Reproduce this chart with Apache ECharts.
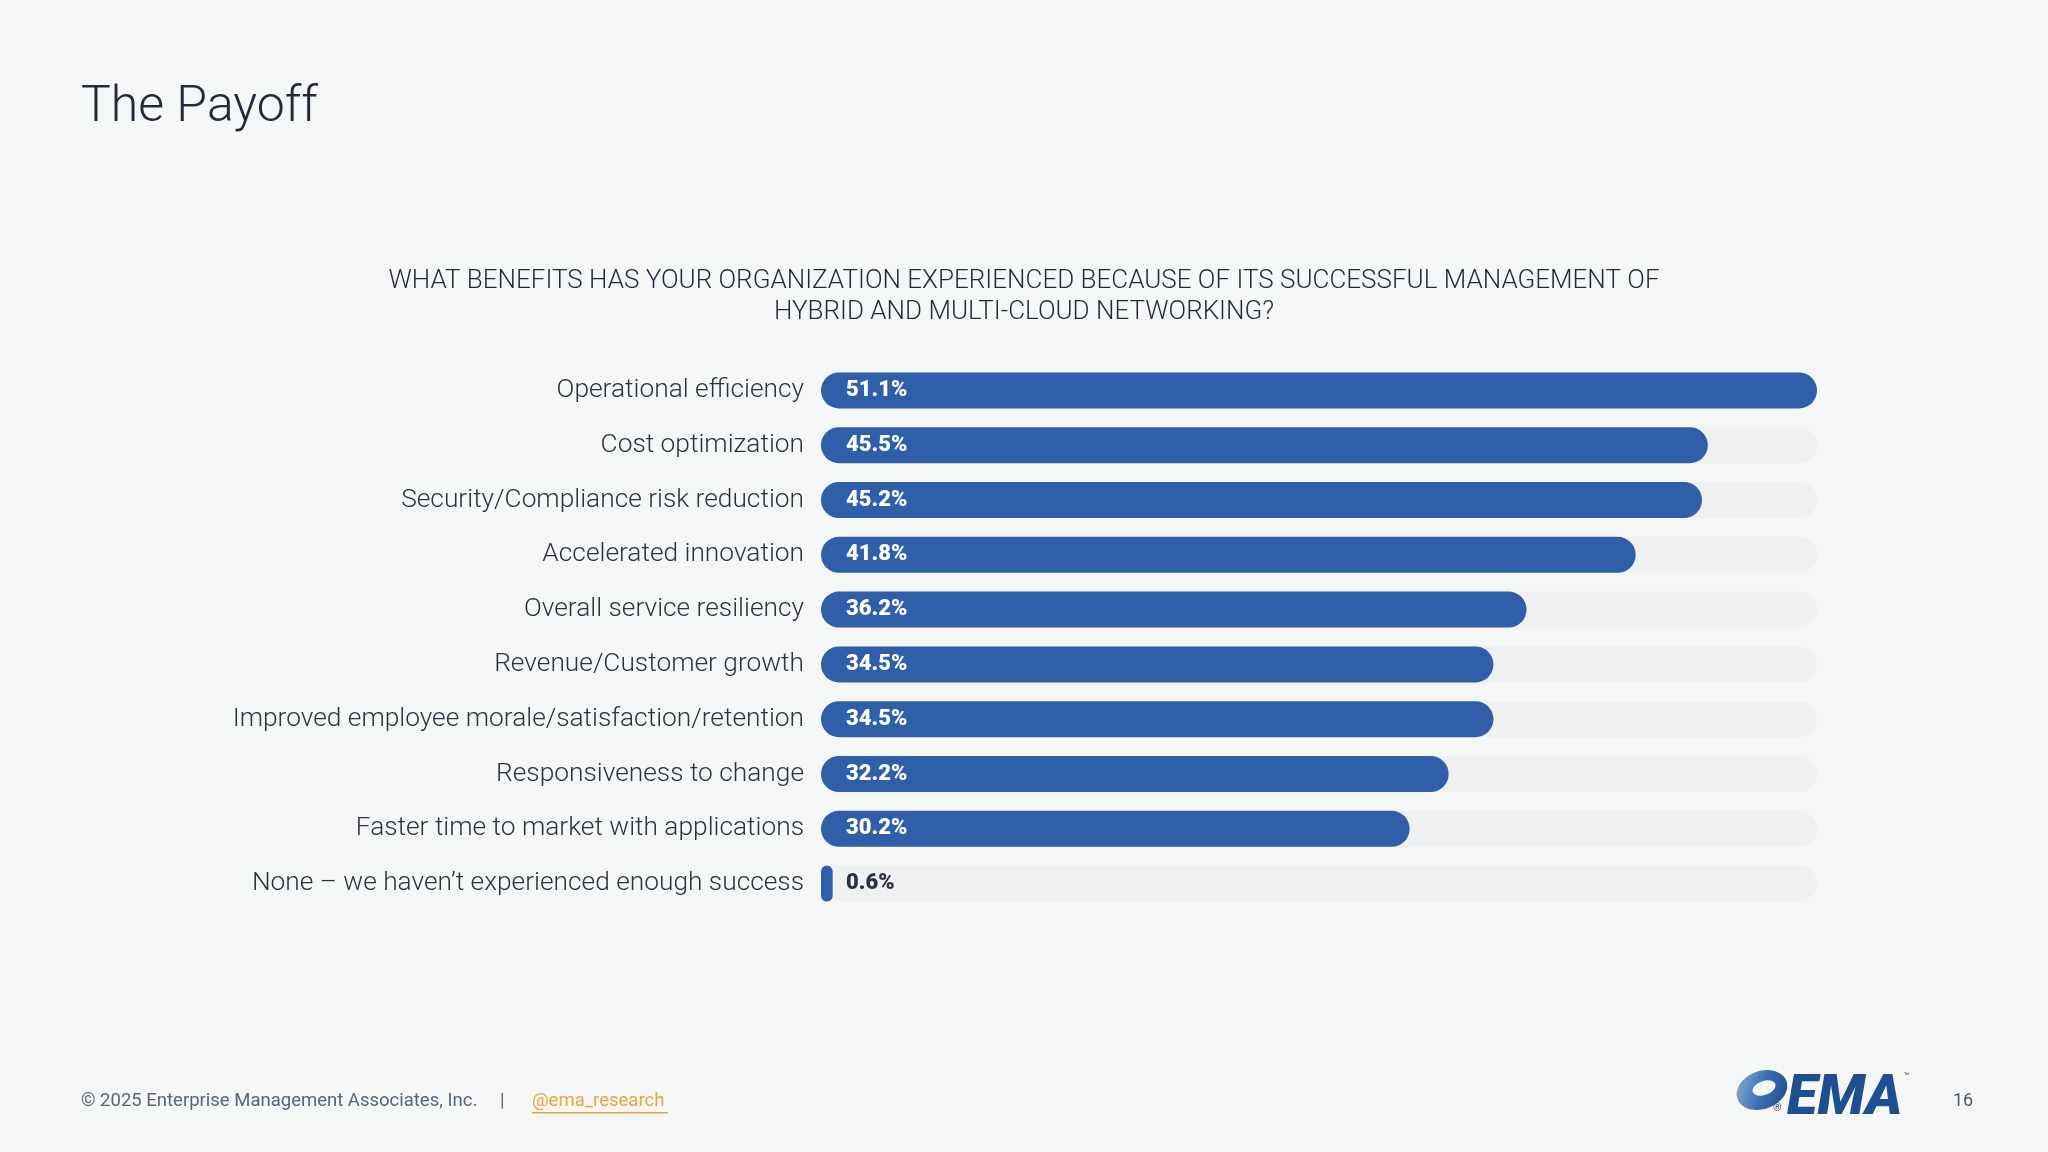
<!DOCTYPE html>
<html>
<head>
<meta charset="utf-8">
<script src="https://cdn.jsdelivr.net/npm/echarts@6/dist/echarts.min.js"></script>
<style>
html,body{margin:0;padding:0;background:#f5f7f6;}
#chart{width:2048px;height:1152px;}
</style>
</head>
<body>
<div id="chart"></div>
<script>
const categories = [
  "Operational efficiency",
  "Cost optimization",
  "Security/Compliance risk reduction",
  "Accelerated innovation",
  "Overall service resiliency",
  "Revenue/Customer growth",
  "Improved employee morale/satisfaction/retention",
  "Responsiveness to change",
  "Faster time to market with applications",
  "None \u2013 we haven\u2019t experienced enough success"
];
const values = [51.1, 45.5, 45.2, 41.8, 36.2, 34.5, 34.5, 32.2, 30.2, 0.6];

const chart = echarts.init(document.getElementById('chart'));
const FONT = 'Roboto';
const BLUE = '#2f5fa9';

const option = {
  backgroundColor: '#f5f7f6',
  animation: false,
  title: [
    {
      text: 'The Payoff',
      left: 76, top: 78,
      textStyle: {fontFamily: FONT, fontSize: 50, fontWeight: 300, color: '#1f2a3a'}
    }
  ],
  grid: {left: 821, right: 231, top: 363, bottom: 241, containLabel: false},
  xAxis: {
    type: 'value', min: 0, max: 51.1,
    show: false
  },
  yAxis: {
    type: 'category', data: categories, inverse: true,
    axisLine: {show: false}, axisTick: {show: false}, splitLine: {show: false},
    axisLabel: {fontFamily: FONT, fontSize: 26.3, fontWeight: 300, color: '#2a3340', margin: 17, padding: [4, 0, 0, 0]}
  },
  series: [{
    type: 'bar',
    data: values.map((v, i) => ({
      value: v,
      label: {color: i === values.length - 1 ? '#2a3340' : '#ffffff'}
    })),
    barWidth: 36,
    itemStyle: {color: BLUE, borderRadius: 18},
    showBackground: true,
    backgroundStyle: {color: '#eef0f1', borderRadius: 18},
    label: {
      show: true, position: 'insideLeft', distance: 25,
      formatter: p => p.value.toFixed(1) + '%',
      fontFamily: FONT, fontSize: 22, fontWeight: 900, padding: [3, 0, 0, 0]
    }
  }],
  graphic: [
    {type: 'text', x: 1024, y: 266, style: {text: 'WHAT BENEFITS HAS YOUR ORGANIZATION EXPERIENCED BECAUSE OF ITS SUCCESSFUL MANAGEMENT OF\nHYBRID AND MULTI-CLOUD NETWORKING?', font: '300 26px Roboto', fill: '#1f2a3a', align: 'center', lineHeight: 31}},
    {type: 'text', left: 81, top: 1092, style: {text: '\u00a9 2025 Enterprise Management Associates, Inc.', font: '18.5px Roboto', fill: '#55657c'}},
    {type: 'text', left: 500, top: 1092, style: {text: '|', font: '18.5px Roboto', fill: '#55657c'}},
    {type: 'text', left: 532, top: 1092, style: {text: '@ema_research', font: '18.5px Roboto', fill: '#e9a53c'}},
    {type: 'rect', shape: {x: 532, y: 1112, width: 136, height: 1.5}, style: {fill: '#e9a53c'}},
    {type: 'text', left: 1953, top: 1092, style: {text: '16', font: '18px Roboto', fill: '#4a5a70'}},
    // logo swirl
    {type: 'ellipse', shape: {cx: 1762, cy: 1090, rx: 26, ry: 19}, rotation: 0.35, originX: 1762, originY: 1090,
      style: {fill: new echarts.graphic.LinearGradient(0, 0, 1, 1, [{offset: 0, color: '#8fb3db'}, {offset: 0.5, color: '#3d6fb0'}, {offset: 1, color: '#1a4888'}])}},
    {type: 'ellipse', shape: {cx: 1764, cy: 1088, rx: 12, ry: 7}, rotation: 0.35, originX: 1764, originY: 1088,
      style: {fill: '#f5f7f6'}},
    {type: 'text', left: 1773, top: 1103, style: {text: '\u00ae', font: '11px Roboto', fill: '#1d4f91'}},
    {type: 'text', left: 1787, top: 1072, style: {text: 'EMA', font: 'italic 900 56px Roboto', fill: '#1d4f91'}},
    {type: 'text', left: 1904, top: 1072, style: {text: '\u2122', font: '9px Roboto', fill: '#1d4f91'}}
  ]
};
chart.setOption(option);
</script>
</body>
</html>
